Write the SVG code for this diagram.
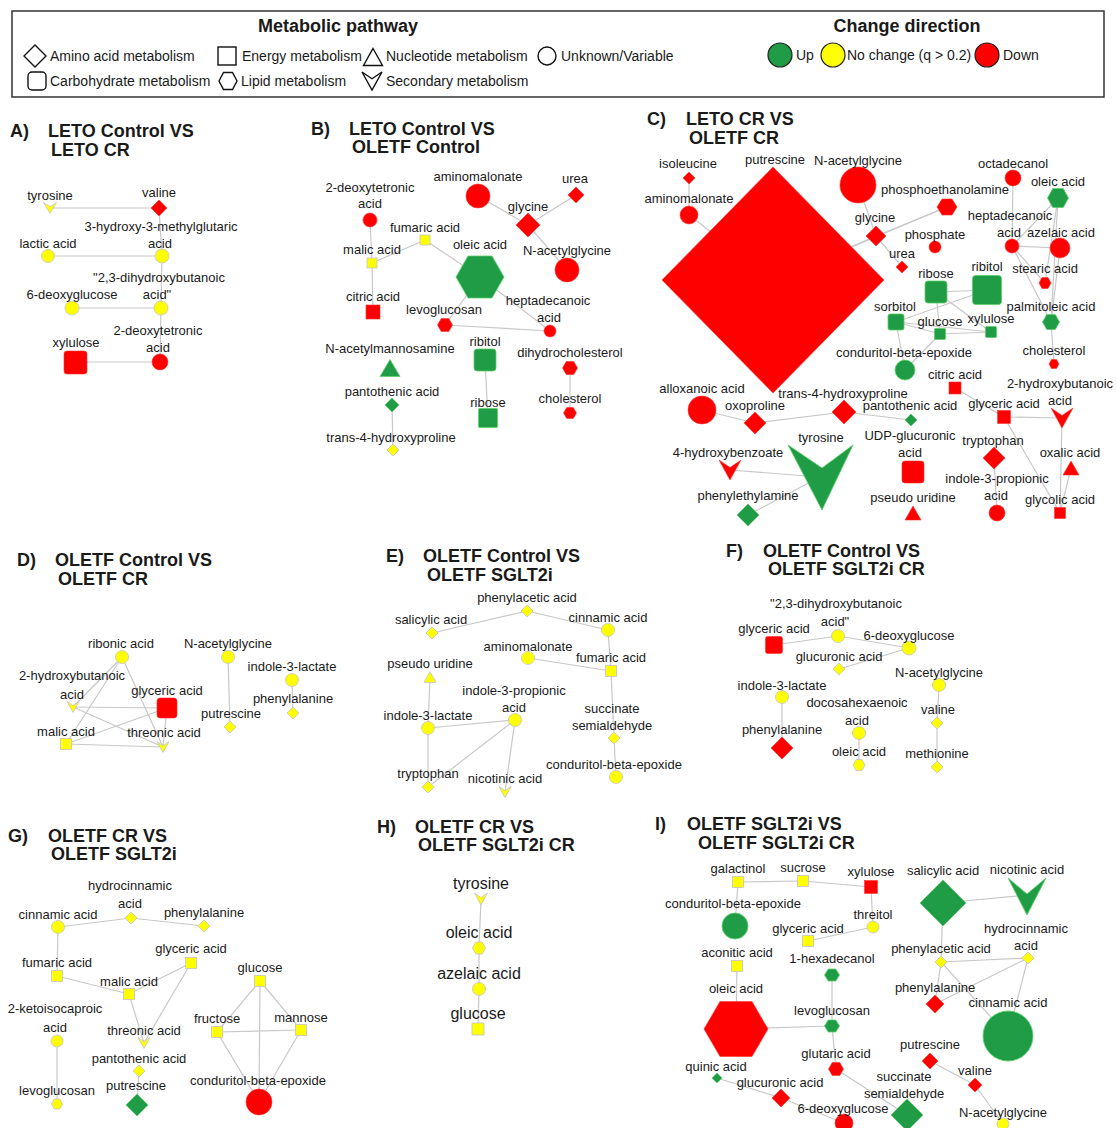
<svg xmlns="http://www.w3.org/2000/svg" xmlns:xlink="http://www.w3.org/1999/xlink" width="1117" height="1128" viewBox="0 0 1117 1128">
<style>
.e line{stroke:#c8c8c8;stroke-width:1.2}
.r{fill:#ff0000;stroke:#ff3030;stroke-width:0.6}
.g{fill:#1f9c45;stroke:#5ccf68;stroke-width:0.8}
.y{fill:#ffff00;stroke:#c4c4c4;stroke-width:0.8}
.lg{fill:#ffffff;stroke:#111;stroke-width:1.4}
text{font-family:"Liberation Sans",Arial,sans-serif;fill:#1a1a1a}
.l{font-size:13px;text-anchor:middle}
.h{font-size:16px;text-anchor:middle}
.t{font-size:18px;font-weight:bold}
.lt{font-size:14px}
</style>
<defs>
<polygon id="dia" points="0,-1 1,0 0,1 -1,0" vector-effect="non-scaling-stroke"/>
<polygon id="hex" points="-1,0 -0.5,-1 0.5,-1 1,0 0.5,1 -0.5,1" vector-effect="non-scaling-stroke"/>
<polygon id="vee" points="-1,-1 0,-0.25 1,-1 0,1" vector-effect="non-scaling-stroke"/>
<polygon id="tri" points="0,-1 1,1 -1,1" vector-effect="non-scaling-stroke"/>
</defs>
<rect width="1117" height="1128" fill="#ffffff"/>

<g id="legend">
<rect x="12" y="11" width="1092" height="86" fill="#fff" stroke="#333" stroke-width="1.5"/>
<text class="t" x="338" y="32" text-anchor="middle">Metabolic pathway</text>
<text class="t" x="907" y="32" text-anchor="middle">Change direction</text>
<use href="#dia" class="lg" transform="translate(35 56) scale(11)"/>
<text class="lt" x="50" y="61">Amino acid metabolism</text>
<rect class="lg" x="218" y="47" width="18" height="18"/>
<text class="lt" x="242" y="61">Energy metabolism</text>
<use href="#tri" class="lg" transform="translate(373 57) scale(9.5 8.5)"/>
<text class="lt" x="386" y="61">Nucleotide metabolism</text>
<circle class="lg" cx="547" cy="56" r="9"/>
<text class="lt" x="561" y="61">Unknown/Variable</text>
<rect class="lg" x="28" y="72" width="18" height="18" rx="4"/>
<text class="lt" x="50" y="86">Carbohydrate metabolism</text>
<use href="#hex" class="lg" transform="translate(228 81) scale(9 8.5)"/>
<text class="lt" x="241" y="86">Lipid metabolism</text>
<use href="#vee" class="lg" transform="translate(372 81) scale(10 9)"/>
<text class="lt" x="386" y="86">Secondary metabolism</text>
<circle cx="780" cy="55" r="12" fill="#1f9c45" stroke="#222" stroke-width="1.2"/>
<text class="lt" x="796" y="60">Up</text>
<circle cx="833" cy="55" r="12" fill="#ffff00" stroke="#222" stroke-width="1.2"/>
<text class="lt" x="847" y="60">No change (q &gt; 0.2)</text>
<circle cx="987" cy="55" r="12" fill="#ff0000" stroke="#222" stroke-width="1.2"/>
<text class="lt" x="1003" y="60">Down</text>
</g>

<g id="titles">
<text class="t" x="10" y="137">A)</text><text class="t" x="48" y="137">LETO Control VS</text><text class="t" x="51" y="156">LETO CR</text>
<text class="t" x="311" y="135">B)</text><text class="t" x="349" y="135">LETO Control VS</text><text class="t" x="352" y="153">OLETF Control</text>
<text class="t" x="647" y="125">C)</text><text class="t" x="686" y="125">LETO CR VS</text><text class="t" x="689" y="144">OLETF CR</text>
<text class="t" x="17" y="566">D)</text><text class="t" x="55" y="566">OLETF Control VS</text><text class="t" x="58" y="585">OLETF CR</text>
<text class="t" x="386" y="562">E)</text><text class="t" x="423" y="562">OLETF Control VS</text><text class="t" x="427" y="581">OLETF SGLT2i</text>
<text class="t" x="726" y="557">F)</text><text class="t" x="763" y="557">OLETF Control VS</text><text class="t" x="768" y="575">OLETF SGLT2i CR</text>
<text class="t" x="8" y="842">G)</text><text class="t" x="48" y="842">OLETF CR VS</text><text class="t" x="51" y="860">OLETF SGLT2i</text>
<text class="t" x="377" y="833">H)</text><text class="t" x="415" y="833">OLETF CR VS</text><text class="t" x="418" y="851">OLETF SGLT2i CR</text>
<text class="t" x="655" y="830">I)</text><text class="t" x="687" y="830">OLETF SGLT2i VS</text><text class="t" x="698" y="849">OLETF SGLT2i CR</text>
</g>

<g id="connectors" class="e">
<line x1="50" y1="208" x2="159" y2="208"/><line x1="159" y1="208" x2="162" y2="256"/><line x1="162" y1="256" x2="48" y2="256"/><line x1="162" y1="256" x2="161" y2="308"/><line x1="161" y1="308" x2="72" y2="308"/><line x1="161" y1="308" x2="160" y2="362"/><line x1="160" y1="362" x2="76" y2="362"/>
<line x1="478" y1="196" x2="528" y2="225"/><line x1="576" y1="195" x2="528" y2="225"/><line x1="528" y1="225" x2="567" y2="270"/><line x1="370" y1="220" x2="372" y2="263"/><line x1="372" y1="263" x2="425" y2="240"/><line x1="372" y1="263" x2="373" y2="312"/><line x1="425" y1="240" x2="480" y2="277"/><line x1="480" y1="277" x2="445" y2="325"/><line x1="480" y1="277" x2="550" y2="331"/><line x1="445" y1="325" x2="550" y2="331"/><line x1="392" y1="405" x2="393" y2="450"/><line x1="485" y1="360" x2="488" y2="418"/><line x1="570" y1="368" x2="570" y2="413"/>
<line x1="689" y1="178" x2="689" y2="215"/><line x1="689" y1="215" x2="773" y2="280"/><line x1="773" y1="280" x2="876" y2="236"/><line x1="773" y1="280" x2="947" y2="207"/><line x1="858" y1="185" x2="876" y2="236"/><line x1="876" y1="236" x2="902" y2="267"/><line x1="876" y1="236" x2="947" y2="207"/>
<line x1="1013" y1="178" x2="1012" y2="246"/><line x1="1058" y1="198" x2="1012" y2="246"/><line x1="1012" y1="246" x2="1060" y2="248"/><line x1="1012" y1="246" x2="1045" y2="283"/><line x1="1012" y1="246" x2="1051" y2="322"/><line x1="1058" y1="198" x2="1045" y2="283"/><line x1="1058" y1="198" x2="1051" y2="322"/><line x1="1060" y1="248" x2="1051" y2="322"/><line x1="1051" y1="322" x2="1054" y2="364"/>
<line x1="936" y1="292" x2="987" y2="290"/><line x1="936" y1="292" x2="940" y2="334"/><line x1="936" y1="292" x2="991" y2="332"/><line x1="987" y1="290" x2="896" y2="322"/><line x1="896" y1="322" x2="940" y2="334"/><line x1="896" y1="322" x2="991" y2="332"/><line x1="940" y1="334" x2="991" y2="332"/><line x1="896" y1="322" x2="905" y2="370"/><line x1="940" y1="334" x2="905" y2="370"/>
<line x1="955" y1="388" x2="1004" y2="417"/><line x1="1004" y1="417" x2="1062" y2="418"/><line x1="1004" y1="417" x2="1060" y2="513"/><line x1="1062" y1="418" x2="1060" y2="513"/><line x1="1071" y1="468" x2="1060" y2="513"/><line x1="994" y1="458" x2="997" y2="513"/>
<line x1="702" y1="410" x2="755" y2="423"/><line x1="755" y1="423" x2="844" y2="412"/><line x1="844" y1="412" x2="911" y2="420"/><line x1="730" y1="470" x2="820" y2="477"/><line x1="748" y1="515" x2="820" y2="477"/>
<line x1="122" y1="657" x2="73" y2="707"/><line x1="122" y1="657" x2="66" y2="744"/><line x1="122" y1="657" x2="163" y2="747"/><line x1="73" y1="707" x2="167" y2="708"/><line x1="73" y1="707" x2="163" y2="747"/><line x1="167" y1="708" x2="66" y2="744"/><line x1="167" y1="708" x2="163" y2="747"/><line x1="66" y1="744" x2="163" y2="747"/><line x1="228" y1="657" x2="230" y2="727"/><line x1="292" y1="680" x2="293" y2="713"/>
<line x1="432" y1="633" x2="527" y2="611"/><line x1="527" y1="611" x2="608" y2="630"/><line x1="608" y1="630" x2="611" y2="671"/><line x1="528" y1="658" x2="611" y2="671"/><line x1="611" y1="671" x2="614" y2="738"/><line x1="614" y1="738" x2="616" y2="777"/><line x1="430" y1="677" x2="428" y2="728"/><line x1="428" y1="728" x2="515" y2="720"/><line x1="428" y1="728" x2="428" y2="787"/><line x1="515" y1="720" x2="428" y2="787"/><line x1="515" y1="720" x2="505" y2="792"/>
<line x1="774" y1="645" x2="838" y2="636"/><line x1="838" y1="636" x2="909" y2="648"/><line x1="909" y1="648" x2="839" y2="669"/><line x1="782" y1="697" x2="782" y2="748"/><line x1="859" y1="733" x2="859" y2="765"/><line x1="939" y1="685" x2="937" y2="723"/><line x1="937" y1="723" x2="937" y2="767"/>
<line x1="58" y1="927" x2="131" y2="918"/><line x1="131" y1="918" x2="204" y2="926"/><line x1="58" y1="927" x2="57" y2="976"/><line x1="57" y1="976" x2="129" y2="994"/><line x1="129" y1="994" x2="191" y2="963"/><line x1="129" y1="994" x2="144" y2="1043"/><line x1="191" y1="963" x2="144" y2="1043"/><line x1="139" y1="1071" x2="137" y2="1105"/><line x1="57" y1="1041" x2="57" y2="1104"/><line x1="260" y1="981" x2="217" y2="1032"/><line x1="260" y1="981" x2="301" y2="1030"/><line x1="260" y1="981" x2="259" y2="1102"/><line x1="217" y1="1032" x2="301" y2="1030"/><line x1="217" y1="1032" x2="259" y2="1102"/><line x1="301" y1="1030" x2="259" y2="1102"/>
<line x1="481" y1="899" x2="479" y2="948"/><line x1="479" y1="948" x2="479" y2="989"/><line x1="479" y1="989" x2="478" y2="1029"/>
<line x1="738" y1="882" x2="803" y2="881"/><line x1="803" y1="881" x2="871" y2="887"/><line x1="738" y1="882" x2="735" y2="926"/><line x1="871" y1="887" x2="873" y2="927"/><line x1="873" y1="927" x2="808" y2="941"/><line x1="943" y1="903" x2="1027" y2="895"/><line x1="943" y1="903" x2="941" y2="962"/><line x1="941" y1="962" x2="1028" y2="958"/><line x1="941" y1="962" x2="935" y2="1004"/><line x1="941" y1="962" x2="1008" y2="1036"/><line x1="1028" y1="958" x2="935" y2="1004"/><line x1="1028" y1="958" x2="1008" y2="1036"/><line x1="737" y1="966" x2="736" y2="1029"/><line x1="736" y1="1029" x2="832" y2="1026"/><line x1="832" y1="975" x2="832" y2="1026"/><line x1="832" y1="1026" x2="836" y2="1069"/><line x1="836" y1="1069" x2="907" y2="1115"/><line x1="930" y1="1061" x2="975" y2="1085"/><line x1="975" y1="1085" x2="1003" y2="1124"/><line x1="717" y1="1078" x2="781" y2="1098"/><line x1="781" y1="1098" x2="844" y2="1123"/>
</g>

<g id="panel-A">
<g id="A-tyrosine"><use href="#vee" class="y" transform="translate(50 208) scale(6.5 5.5)"/><text class="l" x="50" y="200">tyrosine</text></g>
<g id="A-valine"><use href="#dia" class="r" transform="translate(159 208) scale(8)"/><text class="l" x="159" y="197">valine</text></g>
<g id="A-hmg"><circle class="y" cx="162" cy="256" r="7"/><text class="l" x="161" y="231">3-hydroxy-3-methylglutaric</text><text class="l" x="160" y="248">acid</text></g>
<g id="A-lactic"><circle class="y" cx="48" cy="256" r="6.5"/><text class="l" x="48" y="248">lactic acid</text></g>
<g id="A-dhb"><circle class="y" cx="161" cy="308" r="7"/><text class="l" x="159" y="282">"2,3-dihydroxybutanoic</text><text class="l" x="157" y="299">acid"</text></g>
<g id="A-deoxyglucose"><circle class="y" cx="72" cy="308" r="7"/><text class="l" x="72" y="299">6-deoxyglucose</text></g>
<g id="A-deoxytetronic"><circle class="r" cx="160" cy="362" r="8"/><text class="l" x="158" y="335">2-deoxytetronic</text><text class="l" x="158" y="352">acid</text></g>
<g id="A-xylulose"><rect class="r" x="64" y="351" width="23" height="23" rx="3"/><text class="l" x="76" y="347">xylulose</text></g>
</g>

<g id="panel-B">
<g id="B-aminomalonate"><circle class="r" cx="478" cy="196" r="12"/><text class="l" x="478" y="181">aminomalonate</text></g>
<g id="B-urea"><use href="#dia" class="r" transform="translate(576 195) scale(8)"/><text class="l" x="575" y="183">urea</text></g>
<g id="B-glycine"><use href="#dia" class="r" transform="translate(528 225) scale(12)"/><text class="l" x="528" y="211">glycine</text></g>
<g id="B-nacetylglycine"><circle class="r" cx="567" cy="270" r="12"/><text class="l" x="567" y="255">N-acetylglycine</text></g>
<g id="B-deoxytetronic"><circle class="r" cx="370" cy="220" r="7"/><text class="l" x="370" y="192">2-deoxytetronic</text><text class="l" x="370" y="208">acid</text></g>
<g id="B-fumaric"><rect class="y" x="420" y="235" width="10" height="10"/><text class="l" x="425" y="232">fumaric acid</text></g>
<g id="B-malic"><rect class="y" x="367" y="258" width="10" height="10"/><text class="l" x="372" y="254">malic acid</text></g>
<g id="B-citric"><rect class="r" x="366" y="305" width="14" height="14"/><text class="l" x="373" y="301">citric acid</text></g>
<g id="B-oleic"><use href="#hex" class="g" transform="translate(480 277) scale(24 21)"/><text class="l" x="480" y="249">oleic acid</text></g>
<g id="B-heptadecanoic"><circle class="r" cx="550" cy="331" r="6"/><text class="l" x="548" y="305">heptadecanoic</text><text class="l" x="549" y="322">acid</text></g>
<g id="B-levoglucosan"><use href="#hex" class="r" transform="translate(445 325) scale(7.5 6.5)"/><text class="l" x="444" y="314">levoglucosan</text></g>
<g id="B-nacetylmannosamine"><use href="#tri" class="g" transform="translate(390 368) scale(10 8.5)"/><text class="l" x="390" y="353">N-acetylmannosamine</text></g>
<g id="B-pantothenic"><use href="#dia" class="g" transform="translate(392 405) scale(7)"/><text class="l" x="392" y="396">pantothenic acid</text></g>
<g id="B-hydroxyproline"><use href="#dia" class="y" transform="translate(393 450) scale(6)"/><text class="l" x="391" y="442">trans-4-hydroxyproline</text></g>
<g id="B-ribitol"><rect class="g" x="474" y="349" width="22" height="22" rx="3"/><text class="l" x="485" y="346">ribitol</text></g>
<g id="B-ribose"><rect class="g" x="478.5" y="408.5" width="19" height="19" rx="1"/><text class="l" x="488" y="407">ribose</text></g>
<g id="B-dihydrocholesterol"><use href="#hex" class="r" transform="translate(570 368) scale(7.5 6.5)"/><text class="l" x="570" y="357">dihydrocholesterol</text></g>
<g id="B-cholesterol"><use href="#hex" class="r" transform="translate(570 413) scale(6.5 5.5)"/><text class="l" x="570" y="403">cholesterol</text></g>
</g>

<g id="panel-C">
<g id="C-putrescine"><polygon class="r" points="773,167 884,280 773,393 662,280"/><text class="l" x="775" y="164">putrescine</text></g>
<g id="C-isoleucine"><use href="#dia" class="r" transform="translate(689 178) scale(6)"/><text class="l" x="688" y="168">isoleucine</text></g>
<g id="C-aminomalonate"><circle class="r" cx="689" cy="215" r="9"/><text class="l" x="689" y="203">aminomalonate</text></g>
<g id="C-nacetylglycine"><circle class="r" cx="858" cy="185" r="18"/><text class="l" x="858" y="165">N-acetylglycine</text></g>
<g id="C-glycine"><use href="#dia" class="r" transform="translate(876 236) scale(10)"/><text class="l" x="875" y="222">glycine</text></g>
<g id="C-urea"><use href="#dia" class="r" transform="translate(902 267) scale(6)"/><text class="l" x="902" y="258">urea</text></g>
<g id="C-phosphoethanolamine"><use href="#hex" class="r" transform="translate(947 207) scale(10 8)"/><text class="l" x="945" y="194">phosphoethanolamine</text></g>
<g id="C-phosphate"><circle class="r" cx="935" cy="247" r="6"/><text class="l" x="935" y="239">phosphate</text></g>
<g id="C-octadecanol"><circle class="r" cx="1013" cy="178" r="8"/><text class="l" x="1013" y="168">octadecanol</text></g>
<g id="C-oleic"><use href="#hex" class="g" transform="translate(1058 198) scale(10.5 9.5)"/><text class="l" x="1058" y="186">oleic acid</text></g>
<g id="C-heptadecanoic"><circle class="r" cx="1012" cy="246" r="7"/><text class="l" x="1010" y="220">heptadecanoic</text><text class="l" x="1009" y="237">acid</text></g>
<g id="C-azelaic"><circle class="r" cx="1060" cy="248" r="10"/><text class="l" x="1061" y="237">azelaic acid</text></g>
<g id="C-stearic"><use href="#hex" class="r" transform="translate(1045 283) scale(6 5.5)"/><text class="l" x="1045" y="273">stearic acid</text></g>
<g id="C-palmitoleic"><use href="#hex" class="g" transform="translate(1051 322) scale(8.5 7.5)"/><text class="l" x="1051" y="311">palmitoleic acid</text></g>
<g id="C-cholesterol"><use href="#hex" class="r" transform="translate(1054 364) scale(5 4.5)"/><text class="l" x="1054" y="355">cholesterol</text></g>
<g id="C-ribose"><rect class="g" x="925" y="281" width="22" height="22" rx="3"/><text class="l" x="936" y="278">ribose</text></g>
<g id="C-ribitol"><rect class="g" x="972.5" y="275.5" width="29" height="29" rx="3"/><text class="l" x="987" y="271">ribitol</text></g>
<g id="C-sorbitol"><rect class="g" x="888" y="314" width="16" height="16" rx="2"/><text class="l" x="895" y="311">sorbitol</text></g>
<g id="C-glucose"><rect class="g" x="934.5" y="328.5" width="11" height="11" rx="1"/><text class="l" x="940" y="326">glucose</text></g>
<g id="C-xylulose"><rect class="g" x="985.5" y="326.5" width="11" height="11" rx="1"/><text class="l" x="991" y="323">xylulose</text></g>
<g id="C-conduritol"><circle class="g" cx="905" cy="370" r="10"/><text class="l" x="904" y="357">conduritol-beta-epoxide</text></g>
<g id="C-citric"><rect class="r" x="949" y="382" width="12" height="12"/><text class="l" x="955" y="379">citric acid</text></g>
<g id="C-glyceric"><rect class="r" x="997.5" y="410.5" width="13" height="13"/><text class="l" x="1004" y="408">glyceric acid</text></g>
<g id="C-hydroxybutanoic"><use href="#vee" class="r" transform="translate(1062 418) scale(11 10)"/><text class="l" x="1060" y="388">2-hydroxybutanoic</text><text class="l" x="1060" y="405">acid</text></g>
<g id="C-oxalic"><use href="#tri" class="r" transform="translate(1071 468) scale(8 7)"/><text class="l" x="1070" y="457">oxalic acid</text></g>
<g id="C-glycolic"><rect class="r" x="1054.5" y="507.5" width="11" height="11"/><text class="l" x="1060" y="504">glycolic acid</text></g>
<g id="C-tryptophan"><use href="#dia" class="r" transform="translate(994 458) scale(11)"/><text class="l" x="993" y="445">tryptophan</text></g>
<g id="C-indolepropionic"><circle class="r" cx="997" cy="513" r="8"/><text class="l" x="997" y="483">indole-3-propionic</text><text class="l" x="996" y="500">acid</text></g>
<g id="C-pantothenic"><use href="#dia" class="g" transform="translate(911 420) scale(6)"/><text class="l" x="910" y="410">pantothenic acid</text></g>
<g id="C-hydroxyproline"><use href="#dia" class="r" transform="translate(844 412) scale(12)"/><text class="l" x="843" y="398">trans-4-hydroxyproline</text></g>
<g id="C-oxoproline"><use href="#dia" class="r" transform="translate(755 423) scale(11)"/><text class="l" x="755" y="410">oxoproline</text></g>
<g id="C-alloxanoic"><circle class="r" cx="702" cy="410" r="14"/><text class="l" x="702" y="393">alloxanoic acid</text></g>
<g id="C-udpglucuronic"><rect class="r" x="902" y="461" width="22" height="22" rx="3"/><text class="l" x="910" y="440">UDP-glucuronic</text><text class="l" x="910" y="457">acid</text></g>
<g id="C-pseudouridine"><use href="#tri" class="r" transform="translate(913 513) scale(8 7)"/><text class="l" x="913" y="502">pseudo uridine</text></g>
<g id="C-tyrosine"><polygon class="g" points="788,445 822,468 853,445 822,510"/><text class="l" x="821" y="442">tyrosine</text></g>
<g id="C-hydroxybenzoate"><use href="#vee" class="r" transform="translate(730 470) scale(11 10)"/><text class="l" x="728" y="457">4-hydroxybenzoate</text></g>
<g id="C-phenylethylamine"><use href="#dia" class="g" transform="translate(748 515) scale(11)"/><text class="l" x="748" y="500">phenylethylamine</text></g>
</g>

<g id="panel-D">
<g id="D-ribonic"><circle class="y" cx="122" cy="657" r="6.5"/><text class="l" x="121" y="648">ribonic acid</text></g>
<g id="D-hydroxybutanoic"><use href="#vee" class="y" transform="translate(73 707) scale(6 5.5)"/><text class="l" x="72" y="680">2-hydroxybutanoic</text><text class="l" x="72" y="699">acid</text></g>
<g id="D-glyceric"><rect class="r" x="157" y="698" width="20" height="20" rx="3"/><text class="l" x="167" y="695">glyceric acid</text></g>
<g id="D-malic"><rect class="y" x="60.5" y="738.5" width="11" height="11"/><text class="l" x="66" y="736">malic acid</text></g>
<g id="D-threonic"><use href="#vee" class="y" transform="translate(163 747) scale(6 5.5)"/><text class="l" x="164" y="737">threonic acid</text></g>
<g id="D-nacetylglycine"><circle class="y" cx="228" cy="657" r="6.5"/><text class="l" x="228" y="648">N-acetylglycine</text></g>
<g id="D-putrescine"><use href="#dia" class="y" transform="translate(230 727) scale(6)"/><text class="l" x="231" y="718">putrescine</text></g>
<g id="D-indolelactate"><circle class="y" cx="292" cy="680" r="6.5"/><text class="l" x="292" y="671">indole-3-lactate</text></g>
<g id="D-phenylalanine"><use href="#dia" class="y" transform="translate(293 713) scale(6)"/><text class="l" x="293" y="703">phenylalanine</text></g>
</g>

<g id="panel-E">
<g id="E-phenylacetic"><use href="#dia" class="y" transform="translate(527 611) scale(6)"/><text class="l" x="527" y="602">phenylacetic acid</text></g>
<g id="E-salicylic"><use href="#dia" class="y" transform="translate(432 633) scale(6)"/><text class="l" x="431" y="624">salicylic acid</text></g>
<g id="E-cinnamic"><circle class="y" cx="608" cy="630" r="6.5"/><text class="l" x="608" y="622">cinnamic acid</text></g>
<g id="E-aminomalonate"><circle class="y" cx="528" cy="658" r="6.5"/><text class="l" x="528" y="651">aminomalonate</text></g>
<g id="E-fumaric"><rect class="y" x="605.5" y="665.5" width="11" height="11"/><text class="l" x="611" y="662">fumaric acid</text></g>
<g id="E-pseudouridine"><use href="#tri" class="y" transform="translate(430 677) scale(6 5.5)"/><text class="l" x="430" y="668">pseudo uridine</text></g>
<g id="E-indolepropionic"><circle class="y" cx="515" cy="720" r="6.5"/><text class="l" x="514" y="695">indole-3-propionic</text><text class="l" x="514" y="712">acid</text></g>
<g id="E-indolelactate"><circle class="y" cx="428" cy="728" r="6.5"/><text class="l" x="428" y="720">indole-3-lactate</text></g>
<g id="E-succinatesemialdehyde"><use href="#dia" class="y" transform="translate(614 738) scale(6)"/><text class="l" x="612" y="713">succinate</text><text class="l" x="612" y="730">semialdehyde</text></g>
<g id="E-conduritol"><circle class="y" cx="616" cy="777" r="6.5"/><text class="l" x="614" y="769">conduritol-beta-epoxide</text></g>
<g id="E-tryptophan"><use href="#dia" class="y" transform="translate(428 787) scale(6)"/><text class="l" x="428" y="778">tryptophan</text></g>
<g id="E-nicotinic"><use href="#vee" class="y" transform="translate(505 792) scale(6 5.5)"/><text class="l" x="505" y="783">nicotinic acid</text></g>
</g>

<g id="panel-F">
<g id="F-dhb"><circle class="y" cx="838" cy="636" r="6.5"/><text class="l" x="836" y="608">"2,3-dihydroxybutanoic</text><text class="l" x="835" y="626">acid"</text></g>
<g id="F-glyceric"><rect class="r" x="765.5" y="636.5" width="17" height="17" rx="2"/><text class="l" x="774" y="633">glyceric acid</text></g>
<g id="F-deoxyglucose"><circle class="y" cx="909" cy="648" r="7"/><text class="l" x="909" y="640">6-deoxyglucose</text></g>
<g id="F-glucuronic"><use href="#dia" class="y" transform="translate(839 669) scale(6)"/><text class="l" x="839" y="661">glucuronic acid</text></g>
<g id="F-nacetylglycine"><circle class="y" cx="939" cy="685" r="6.5"/><text class="l" x="939" y="677">N-acetylglycine</text></g>
<g id="F-indolelactate"><circle class="y" cx="782" cy="697" r="6.5"/><text class="l" x="782" y="690">indole-3-lactate</text></g>
<g id="F-docosahexaenoic"><circle class="y" cx="859" cy="733" r="6.5"/><text class="l" x="857" y="707">docosahexaenoic</text><text class="l" x="857" y="725">acid</text></g>
<g id="F-valine"><use href="#dia" class="y" transform="translate(937 723) scale(6)"/><text class="l" x="938" y="714">valine</text></g>
<g id="F-phenylalanine"><use href="#dia" class="r" transform="translate(782 748) scale(11)"/><text class="l" x="782" y="734">phenylalanine</text></g>
<g id="F-oleic"><use href="#hex" class="y" transform="translate(859 765) scale(6 5.5)"/><text class="l" x="859" y="756">oleic acid</text></g>
<g id="F-methionine"><use href="#dia" class="y" transform="translate(937 767) scale(6)"/><text class="l" x="937" y="758">methionine</text></g>
</g>

<g id="panel-G">
<g id="G-hydrocinnamic"><use href="#dia" class="y" transform="translate(131 918) scale(6)"/><text class="l" x="130" y="890">hydrocinnamic</text><text class="l" x="130" y="908">acid</text></g>
<g id="G-cinnamic"><circle class="y" cx="58" cy="927" r="6.5"/><text class="l" x="58" y="919">cinnamic acid</text></g>
<g id="G-phenylalanine"><use href="#dia" class="y" transform="translate(204 926) scale(6)"/><text class="l" x="204" y="917">phenylalanine</text></g>
<g id="G-fumaric"><rect class="y" x="51.5" y="970.5" width="11" height="11"/><text class="l" x="57" y="967">fumaric acid</text></g>
<g id="G-glyceric"><rect class="y" x="185.5" y="957.5" width="11" height="11"/><text class="l" x="191" y="953">glyceric acid</text></g>
<g id="G-malic"><rect class="y" x="123.5" y="988.5" width="11" height="11"/><text class="l" x="129" y="986">malic acid</text></g>
<g id="G-glucose"><rect class="y" x="254.5" y="975.5" width="11" height="11"/><text class="l" x="260" y="972">glucose</text></g>
<g id="G-ketoisocaproic"><circle class="y" cx="57" cy="1041" r="6"/><text class="l" x="55" y="1013">2-ketoisocaproic</text><text class="l" x="55" y="1032">acid</text></g>
<g id="G-threonic"><use href="#vee" class="y" transform="translate(144 1043) scale(6 5.5)"/><text class="l" x="144" y="1035">threonic acid</text></g>
<g id="G-fructose"><rect class="y" x="211.5" y="1026.5" width="11" height="11"/><text class="l" x="217" y="1023">fructose</text></g>
<g id="G-mannose"><rect class="y" x="295.5" y="1024.5" width="11" height="11"/><text class="l" x="301" y="1022">mannose</text></g>
<g id="G-pantothenic"><use href="#dia" class="y" transform="translate(139 1071) scale(6)"/><text class="l" x="139" y="1063">pantothenic acid</text></g>
<g id="G-levoglucosan"><use href="#hex" class="y" transform="translate(57 1104) scale(5.5 5)"/><text class="l" x="57" y="1095">levoglucosan</text></g>
<g id="G-putrescine"><use href="#dia" class="g" transform="translate(137 1105) scale(11)"/><text class="l" x="136" y="1090">putrescine</text></g>
<g id="G-conduritol"><circle class="r" cx="259" cy="1102" r="13"/><text class="l" x="258" y="1085">conduritol-beta-epoxide</text></g>
</g>

<g id="panel-H">
<g id="H-tyrosine"><use href="#vee" class="y" transform="translate(481 899) scale(6.5 6)"/><text class="h" x="481" y="889">tyrosine</text></g>
<g id="H-oleic"><use href="#hex" class="y" transform="translate(479 948) scale(6.5 6)"/><text class="h" x="479" y="938">oleic acid</text></g>
<g id="H-azelaic"><circle class="y" cx="479" cy="989" r="6.5"/><text class="h" x="479" y="979">azelaic acid</text></g>
<g id="H-glucose"><rect class="y" x="472" y="1023" width="12" height="12"/><text class="h" x="478" y="1019">glucose</text></g>
</g>

<g id="panel-I">
<g id="I-galactinol"><rect class="y" x="732.5" y="876.5" width="11" height="11"/><text class="l" x="738" y="873">galactinol</text></g>
<g id="I-sucrose"><rect class="y" x="797.5" y="875.5" width="11" height="11"/><text class="l" x="803" y="872">sucrose</text></g>
<g id="I-xylulose"><rect class="r" x="864.5" y="880.5" width="13" height="13"/><text class="l" x="871" y="876">xylulose</text></g>
<g id="I-salicylic"><use href="#dia" class="g" transform="translate(943 903) scale(23)"/><text class="l" x="943" y="875">salicylic acid</text></g>
<g id="I-nicotinic"><polygon class="g" points="1008,878 1027,894 1046,878 1027,915"/><text class="l" x="1027" y="874">nicotinic acid</text></g>
<g id="I-conduritol"><circle class="g" cx="735" cy="926" r="13"/><text class="l" x="733" y="908">conduritol-beta-epoxide</text></g>
<g id="I-threitol"><circle class="y" cx="873" cy="927" r="6"/><text class="l" x="873" y="919">threitol</text></g>
<g id="I-glyceric"><rect class="y" x="802.5" y="935.5" width="11" height="11"/><text class="l" x="808" y="933">glyceric acid</text></g>
<g id="I-hydrocinnamic"><use href="#dia" class="y" transform="translate(1028 958) scale(6)"/><text class="l" x="1026" y="933">hydrocinnamic</text><text class="l" x="1026" y="950">acid</text></g>
<g id="I-aconitic"><rect class="y" x="731.5" y="960.5" width="11" height="11"/><text class="l" x="737" y="957">aconitic acid</text></g>
<g id="I-hexadecanol"><use href="#hex" class="g" transform="translate(832 975) scale(7.5 6)"/><text class="l" x="832" y="963">1-hexadecanol</text></g>
<g id="I-phenylacetic"><use href="#dia" class="y" transform="translate(941 962) scale(6)"/><text class="l" x="941" y="953">phenylacetic acid</text></g>
<g id="I-oleic"><use href="#hex" class="r" transform="translate(736 1029) scale(32 27.5)"/><text class="l" x="736" y="993">oleic acid</text></g>
<g id="I-levoglucosan"><use href="#hex" class="g" transform="translate(832 1026) scale(7.5 6)"/><text class="l" x="832" y="1015">levoglucosan</text></g>
<g id="I-phenylalanine"><use href="#dia" class="r" transform="translate(935 1004) scale(9)"/><text class="l" x="935" y="992">phenylalanine</text></g>
<g id="I-cinnamic"><circle class="g" cx="1008" cy="1036" r="25"/><text class="l" x="1008" y="1007">cinnamic acid</text></g>
<g id="I-glutaric"><use href="#hex" class="r" transform="translate(836 1069) scale(7.5 6.5)"/><text class="l" x="836" y="1058">glutaric acid</text></g>
<g id="I-putrescine"><use href="#dia" class="r" transform="translate(930 1061) scale(8)"/><text class="l" x="930" y="1049">putrescine</text></g>
<g id="I-quinic"><use href="#dia" class="g" transform="translate(717 1078) scale(5)"/><text class="l" x="716" y="1071">quinic acid</text></g>
<g id="I-succinatesemialdehyde"><use href="#dia" class="g" transform="translate(907 1115) scale(16)"/><text class="l" x="904" y="1081">succinate</text><text class="l" x="904" y="1098">semialdehyde</text></g>
<g id="I-valine"><use href="#dia" class="r" transform="translate(975 1085) scale(7)"/><text class="l" x="975" y="1075">valine</text></g>
<g id="I-glucuronic"><use href="#dia" class="r" transform="translate(781 1098) scale(9)"/><text class="l" x="780" y="1087">glucuronic acid</text></g>
<g id="I-deoxyglucose"><circle class="r" cx="844" cy="1123" r="9"/><text class="l" x="843" y="1113">6-deoxyglucose</text></g>
<g id="I-nacetylglycine"><circle class="y" cx="1003" cy="1124" r="6"/><text class="l" x="1003" y="1117">N-acetylglycine</text></g>
</g>
</svg>
